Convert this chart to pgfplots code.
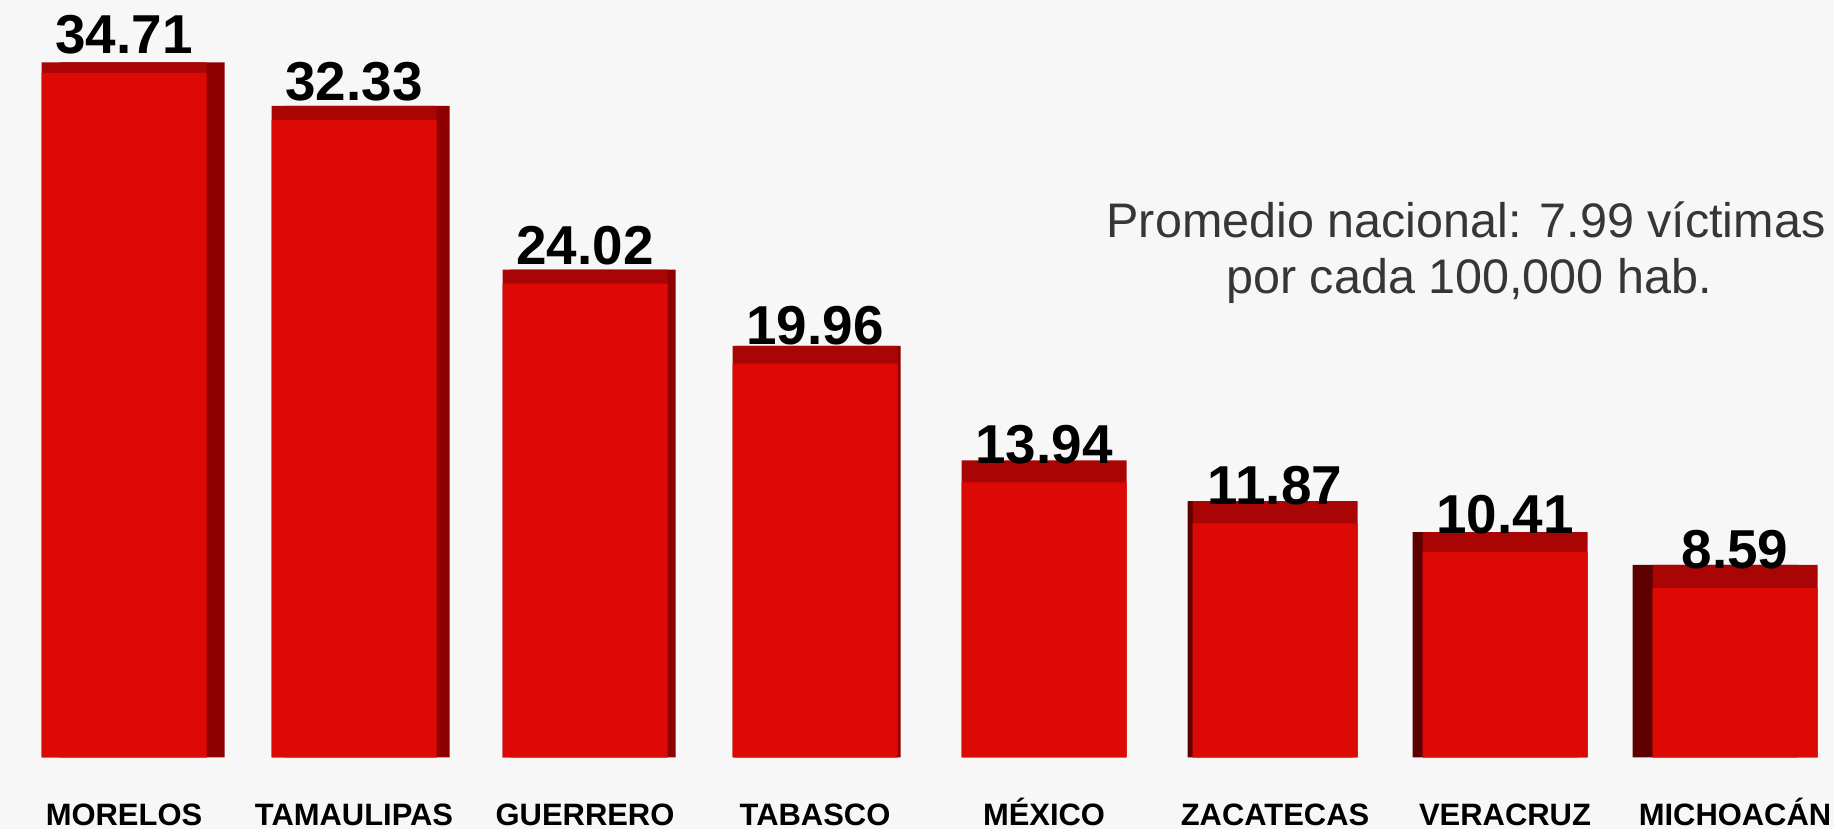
\documentclass[border=0pt]{standalone}
\usepackage{fontspec}
\setmainfont{Liberation Sans}
\usepackage{pgfplots}
\usepackage{pgfplotstable}
\pgfplotsset{compat=1.18}
\definecolor{bg}{HTML}{F7F7F7}
\definecolor{front}{HTML}{DC0905}
\definecolor{topc}{HTML}{A90505}
\definecolor{sideR}{HTML}{8E0000}
\definecolor{sideL}{HTML}{5C0000}
\definecolor{txt}{HTML}{363636}

\pgfplotstableread{
x v h lab
1.24 34.71 35.24 34.71
3.54 32.33 33.04 32.33
5.85 24.02 24.73 24.02
8.15 19.96 20.87 19.96
10.44 13.94 15.06 13.94
12.75 11.87 12.99 11.87
15.05 10.41 11.42 10.41
17.35 8.59 9.76 8.59
}\data
\pgfplotstableread{
xs h
1.42 35.24
3.67 33.04
5.93 24.73
8.18 20.87
}\sideright
\pgfplotstableread{
xs h
12.70 12.99
14.95 11.42
17.15 9.76
}\sideleft

\begin{document}
\begin{tikzpicture}
\begin{axis}[
  scale only axis, width=18.34cm, height=8.29cm,
  xmin=0, xmax=18.34, ymin=-3.651, ymax=38.387,
  axis background/.style={fill=bg},
  axis line style={draw=none},
  ytick=\empty,
  xtick={1.24,3.54,5.85,8.15,10.44,12.75,15.05,17.35},
  xticklabels={MORELOS,TAMAULIPAS,GUERRERO,TABASCO,MÉXICO,ZACATECAS,VERACRUZ,MICHOACÁN},
  major tick length=0pt,
  xticklabel style={anchor=base, yshift=1.1pt, inner sep=0pt, font=\fontsize{8.8}{10}\selectfont\bfseries},
  clip=false,
]
\addplot[ybar, bar shift=0pt, bar width=1.65, fill=sideR, draw=none] table[x=xs,y=h]{\sideright};
\addplot[ybar, bar shift=0pt, bar width=1.65, fill=sideL, draw=none] table[x=xs,y=h]{\sideleft};
\addplot[ybar, bar shift=0pt, bar width=1.65, fill=topc, draw=none] table[x=x,y=h]{\data};
\addplot[ybar, bar shift=0pt, bar width=1.65, fill=front, draw=none,
  point meta=explicit symbolic, nodes near coords,
  nodes near coords style={anchor=base, yshift=5.4pt, inner sep=0pt, text=black, font=\fontsize{15.6}{17}\selectfont\bfseries}]
  table[x=x,y=v,meta=lab]{\data};
\node[anchor=base, inner sep=0pt, text=txt, font=\fontsize{13.8}{16}\selectfont] at (axis cs:14.66,26.37) {Promedio nacional: 7.99 víctimas};
\node[anchor=base, inner sep=0pt, text=txt, font=\fontsize{13.8}{16}\selectfont] at (axis cs:14.69,23.53) {por cada 100,000 hab.};
\end{axis}
\end{tikzpicture}
\end{document}
